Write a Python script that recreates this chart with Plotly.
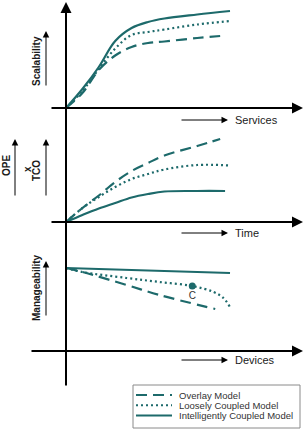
import plotly.graph_objects as go

# ---------------- data ----------------
series_names = ["Overlay Model", "Loosely Coupled Model", "Intelligently Coupled Model"]

# Scalability vs Services (top panel)
top_x_dashed = [0, 1, 2, 3, 4, 5, 6, 8, 9.4]
top_dashed = [0, 1.5, 3.8, 5.25, 6.1, 6.5, 6.65, 7.0, 7.2]
top_x_dotted = [0, 1, 2, 3, 4, 5, 6, 8, 10]
top_dotted = [0, 1.7, 3.9, 5.95, 7.3, 7.6, 7.85, 8.35, 8.7]
top_x_solid = [0, 1, 2, 3, 4, 5, 6, 8, 10]
top_solid = [0, 1.9, 4.1, 6.7, 8.0, 8.6, 8.95, 9.35, 9.7]

# OPE x TCO vs Time (middle panel)
mid_x_dashed = [0, 1, 2, 3, 4, 5, 6, 8, 9.4]
mid_dashed = [0, 1.4, 2.65, 4.0, 5.1, 5.9, 6.65, 7.6, 8.3]
mid_x_dotted = [0, 1, 2, 3, 4, 5, 6, 8, 10]
mid_dotted = [0, 1.4, 2.5, 3.5, 4.3, 4.8, 5.25, 5.7, 5.65]
mid_x_solid = [0, 1, 2, 3, 4, 5, 6, 8, 9.7]
mid_solid = [0, 0.7, 1.35, 1.9, 2.45, 2.8, 3.05, 3.1, 3.1]

# Manageability vs Devices (bottom panel)
bot_x_dashed = [0, 1, 3.7, 5.7, 9.1]
bot_dashed = [8.3, 7.9, 6.6, 5.6, 4.2]
bot_x_dotted = [0, 1, 3.7, 5.7, 7.7, 9, 9.6, 10]
bot_dotted = [8.3, 7.9, 7.3, 6.9, 6.5, 5.9, 5.3, 4.4]
bot_x_solid = [0, 5, 10]
bot_solid = [8.3, 8.05, 7.8]
point_c_x = [7.7]
point_c_y = [6.5]
point_c_label = ["C"]

# ---------------- style ----------------
TEAL = "#1d6a6b"
INK = "#1a1a1a"
FONT = "Liberation Sans, Arial, sans-serif"
W, H = 305, 429
dash_styles = ["11px,6px", "2px,3px", "solid"]

fig = go.Figure()

panels = [
    ("y", [(top_x_dashed, top_dashed), (top_x_dotted, top_dotted), (top_x_solid, top_solid)]),
    ("y2", [(mid_x_dashed, mid_dashed), (mid_x_dotted, mid_dotted), (mid_x_solid, mid_solid)]),
    ("y3", [(bot_x_dashed, bot_dashed), (bot_x_dotted, bot_dotted), (bot_x_solid, bot_solid)]),
]
for pi, (yax, series) in enumerate(panels):
    for si, (xs, ys) in enumerate(series):
        fig.add_trace(go.Scatter(
            x=xs, y=ys, yaxis=yax, mode="lines",
            line=dict(color=TEAL, width=2.2, dash=dash_styles[si], shape="spline", smoothing=1),
            name=series_names[si], legendgroup=series_names[si],
            showlegend=False, hoverinfo="skip",
        ))

fig.add_trace(go.Scatter(
    x=point_c_x, y=point_c_y, yaxis="y3", mode="markers+text",
    marker=dict(color=TEAL, size=7, symbol="circle"),
    text=point_c_label, textposition="bottom center",
    textfont=dict(family=FONT, size=10, color="#333"),
    showlegend=False, hoverinfo="skip",
))

# axis mapping: 1 x-unit = 16.4 px, origin at px 66; 1 y-unit = 10 px
XS, X0 = 16.4, 66
def xr(px):
    return (px - X0) / XS

def yr(origin_py):
    return [(origin_py - H) / 10, origin_py / 10]

ORIG = {"y": 108, "y2": 222, "y3": 351}

annotations = []
shapes = []

def axis_arrow(yref, x_tail, x_head, y_tail, y_head, width=2, size=1.1):
    annotations.append(dict(
        x=x_head, y=y_head, ax=x_tail, ay=y_tail,
        xref="x", yref=yref, axref="x", ayref=yref,
        text="", showarrow=True, arrowhead=2, arrowsize=size,
        arrowwidth=width, arrowcolor="black",
    ))

# vertical main axis (top panel coordinates)
axis_arrow("y", 0, 0, (ORIG["y"] - 387) / 10, (ORIG["y"] - 2) / 10)
# horizontal axes
axis_arrow("y", xr(50), xr(303), 0, 0)
axis_arrow("y2", xr(50), xr(303), 0, 0)
axis_arrow("y3", xr(30), xr(303), 0, 0)

# small direction arrows with labels
for yref, py, label in [("y", 120, "Services"), ("y2", 233, "Time"), ("y3", 360, "Devices")]:
    yy = (ORIG[yref] - py) / 10
    annotations.append(dict(
        x=xr(228), y=yy, ax=xr(180), ay=yy, xref="x", yref=yref, axref="x", ayref=yref,
        text="", showarrow=True, arrowhead=2, arrowsize=1.3, arrowwidth=1, arrowcolor="black",
    ))
    annotations.append(dict(
        x=xr(233), y=yy, xref="x", yref=yref, text=label, showarrow=False,
        xanchor="left", yanchor="middle",
        font=dict(family=FONT, size=11, color=INK),
    ))

# rotated axis titles
def vlabel(text, px, py):
    annotations.append(dict(
        x=px / W, y=1 - py / H, xref="paper", yref="paper", text=text,
        showarrow=False, textangle=-90, xanchor="center", yanchor="middle",
        font=dict(family=FONT, size=10, color=INK),
    ))

vlabel("<b>Scalability</b>", 37, 61)
vlabel("<b>OPE</b>", 6, 166)
vlabel("<b>x</b>", 27, 169)
vlabel("<b>TCO</b>", 37, 171)
vlabel("<b>Manageability</b>", 36, 288)

def varrow(px, py_tail, py_head):
    annotations.append(dict(
        x=px / W, y=1 - py_head / H, xref="paper", yref="paper",
        ax=0, ay=py_tail - py_head, text="", showarrow=True,
        arrowhead=2, arrowsize=1.3, arrowwidth=1, arrowcolor="black",
    ))

varrow(46, 87, 31)
varrow(15, 197, 139)
varrow(46, 197, 139)
varrow(46, 317, 261)

# ---------------- legend box (bottom right) ----------------
shapes.append(dict(
    type="rect", xref="paper", yref="paper",
    x0=133 / W, x1=300 / W, y0=1 - 428 / H, y1=1 - 385 / H,
    line=dict(color="#8a8a8a", width=1), fillcolor="white", layer="above",
))
for i, name in enumerate(series_names):
    py = 395 + i * 10.3
    shapes.append(dict(
        type="line", xref="paper", yref="paper",
        x0=136 / W, x1=172 / W, y0=1 - py / H, y1=1 - py / H,
        line=dict(color=TEAL, width=2, dash=dash_styles[i] if dash_styles[i] != "solid" else "solid"),
        layer="above",
    ))
    annotations.append(dict(
        x=177 / W, y=1 - py / H, xref="paper", yref="paper", text=name,
        showarrow=False, xanchor="left", yanchor="middle",
        font=dict(family=FONT, size=9.5, color="#333"),
    ))

fig.update_layout(
    width=W, height=H,
    margin=dict(l=0, r=0, t=0, b=0, autoexpand=False),
    paper_bgcolor="white", plot_bgcolor="white",
    xaxis=dict(range=[xr(0), xr(W)], visible=False, fixedrange=True),
    yaxis=dict(range=yr(ORIG["y"]), visible=False, fixedrange=True),
    yaxis2=dict(range=yr(ORIG["y2"]), visible=False, overlaying="y", fixedrange=True),
    yaxis3=dict(range=yr(ORIG["y3"]), visible=False, overlaying="y", fixedrange=True),
    annotations=annotations,
    shapes=shapes,
    showlegend=False,
)

fig.write_html("out.html")
